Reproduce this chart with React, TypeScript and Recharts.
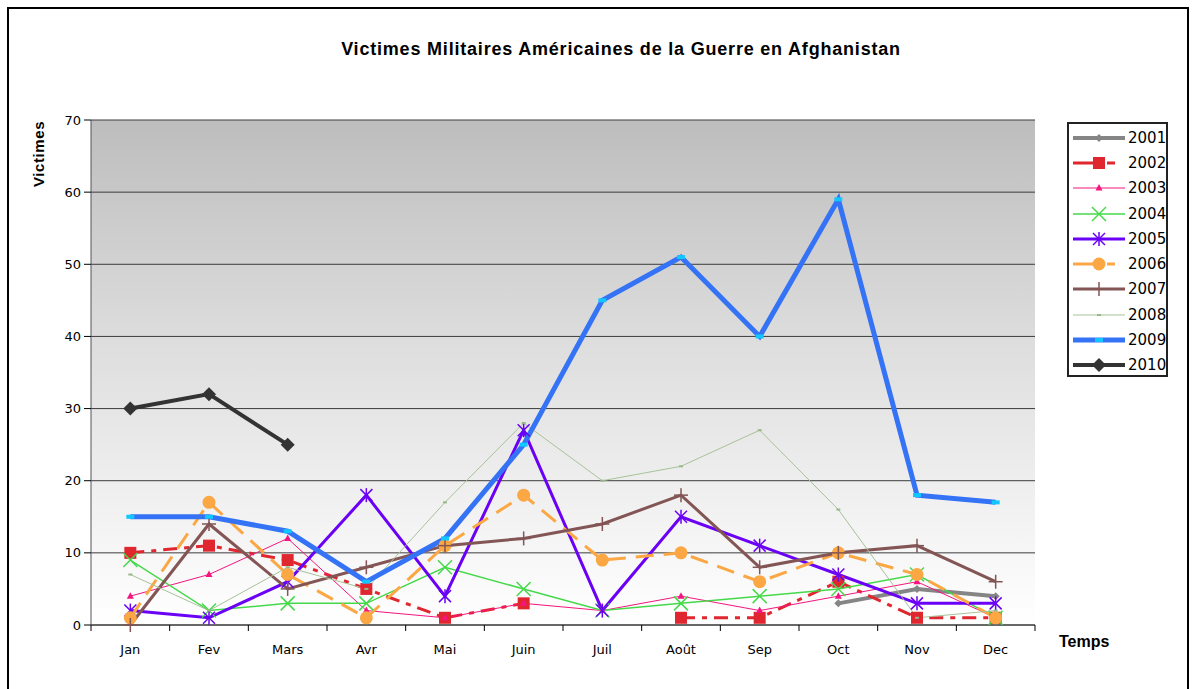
import { CartesianGrid, Legend, Line, LineChart, XAxis, YAxis } from "recharts";

// Month categories and y ticks.
const months = ["Jan", "Fev", "Mars", "Avr", "Mai", "Juin", "Juil", "Août", "Sep", "Oct", "Nov", "Dec"];
const yTicks = [0, 10, 20, 30, 40, 50, 60, 70];
const xTicks = [0, 0.5, 1, 1.5, 2, 2.5, 3, 3.5, 4, 4.5, 5, 5.5, 6, 6.5, 7, 7.5, 8, 8.5, 9, 9.5, 10, 10.5, 11, 11.5, 12];

// Monthly casualties per year (null = no data).
const y2001 = [null, null, null, null, null, null, null, null, null, 3, 5, 4];
const y2002 = [10, 11, 9, 5, 1, 3, null, 1, 1, 6, 1, 1];
const y2003 = [4, 7, 12, 2, 1, 3, 2, 4, 2, 4, 6, 1];
const y2004 = [9, 2, 3, 3, 8, 5, 2, 3, 4, 5, 7, 1];
const y2005 = [2, 1, 6, 18, 4, 27, 2, 15, 11, 7, 3, 3];
const y2006 = [1, 17, 7, 1, 11, 18, 9, 10, 6, 10, 7, 1];
const y2007 = [0, 14, 5, 8, 11, 12, 14, 18, 8, 10, 11, 6];
const y2008 = [7, 2, 8, 5, 17, 28, 20, 22, 27, 16, 1, 2];
const y2009 = [15, 15, 13, 6, 12, 25, 45, 51, 40, 59, 18, 17];
const y2010 = [30, 32, 25, null, null, null, null, null, null, null, null, null];

const values: Record<string, (number | null)[]> = {
  "2001": y2001,
  "2002": y2002,
  "2003": y2003,
  "2004": y2004,
  "2005": y2005,
  "2006": y2006,
  "2007": y2007,
  "2008": y2008,
  "2009": y2009,
  "2010": y2010,
};

type Shape = "diamond" | "square" | "triangle" | "x" | "star" | "circle" | "plus" | "dash" | "bar" | "bigdiamond";

const series: { key: string; color: string; width: number; dash?: string; shape: Shape; mark: string }[] = [
  { key: "2001", color: "#858585", width: 4, shape: "diamond", mark: "#858585" },
  { key: "2002", color: "#e0262f", width: 3, dash: "14 7 5 7", shape: "square", mark: "#e0262f" },
  { key: "2003", color: "#f5157f", width: 1, shape: "triangle", mark: "#f5157f" },
  { key: "2004", color: "#45d94a", width: 1.5, shape: "x", mark: "#45d94a" },
  { key: "2005", color: "#6a00f5", width: 3, shape: "star", mark: "#6a00f5" },
  { key: "2006", color: "#fba744", width: 3, dash: "18 10", shape: "circle", mark: "#fba744" },
  { key: "2007", color: "#835555", width: 3, shape: "plus", mark: "#835555" },
  { key: "2008", color: "#a8c298", width: 1, shape: "dash", mark: "#98b888" },
  { key: "2009", color: "#3473f5", width: 5, shape: "bar", mark: "#10c8ff" },
  { key: "2010", color: "#333333", width: 4, shape: "bigdiamond", mark: "#333333" },
];

const rows = months.map((m, i) => {
  const row: Record<string, number | string | null> = { x: i + 0.5, month: m };
  for (const k of Object.keys(values)) row[k] = values[k][i];
  return row;
});

const FONT = "'DejaVu Sans', Verdana, sans-serif";
const BOLD = "'Liberation Sans', Arial, sans-serif";

function marker(shape: Shape, cx: number, cy: number, c: string) {
  switch (shape) {
    case "diamond":
      return <polygon points={`${cx},${cy - 4} ${cx + 4},${cy} ${cx},${cy + 4} ${cx - 4},${cy}`} fill={c} />;
    case "bigdiamond":
      return <polygon points={`${cx},${cy - 7} ${cx + 7},${cy} ${cx},${cy + 7} ${cx - 7},${cy}`} fill={c} />;
    case "square":
      return <rect x={cx - 6} y={cy - 6} width={12} height={12} fill={c} />;
    case "triangle":
      return <polygon points={`${cx},${cy - 4} ${cx + 3.5},${cy + 2.5} ${cx - 3.5},${cy + 2.5}`} fill={c} />;
    case "x":
      return (
        <g stroke={c} strokeWidth={1.5}>
          <line x1={cx - 7} y1={cy - 7} x2={cx + 7} y2={cy + 7} />
          <line x1={cx - 7} y1={cy + 7} x2={cx + 7} y2={cy - 7} />
        </g>
      );
    case "star":
      return (
        <g stroke={c} strokeWidth={1.5}>
          <line x1={cx - 6} y1={cy - 6} x2={cx + 6} y2={cy + 6} />
          <line x1={cx - 6} y1={cy + 6} x2={cx + 6} y2={cy - 6} />
          <line x1={cx} y1={cy - 7} x2={cx} y2={cy + 7} />
        </g>
      );
    case "circle":
      return <circle cx={cx} cy={cy} r={6.5} fill={c} />;
    case "plus":
      return (
        <g stroke={c} strokeWidth={1.5}>
          <line x1={cx - 7} y1={cy} x2={cx + 7} y2={cy} />
          <line x1={cx} y1={cy - 7} x2={cx} y2={cy + 7} />
        </g>
      );
    case "dash":
      return <rect x={cx - 2} y={cy - 1} width={4} height={2} fill={c} />;
    case "bar":
      return <rect x={cx - 4} y={cy - 2} width={8} height={4} fill={c} />;
  }
}

const makeDot = (shape: Shape, c: string) => (p: any) => {
  if (p.value == null || p.cy == null || p.cx == null) return <g key={p.key} />;
  return <g key={p.key}>{marker(shape, p.cx, p.cy, c)}</g>;
};

const MonthTick = (props: any) => {
  const { x, y, payload } = props;
  const v = payload.value as number;
  if (Number.isInteger(v)) return <line x1={x} x2={x} y1={y} y2={y + 6} stroke="#000" />;
  return (
    <text x={x} y={y + 29} textAnchor="middle" fontFamily={FONT} fontSize={13} fill="#000">
      {months[Math.floor(v)]}
    </text>
  );
};

const LegendBox = () => (
  <div style={{ border: "2px solid #222", width: 101, height: 255, boxSizing: "border-box", background: "#fff", paddingTop: 1 }}>
    {series.map((s) => (
      <div key={s.key} style={{ display: "flex", alignItems: "center", height: 25.3 }}>
        <svg width={56} height={20} style={{ marginLeft: 1, flexShrink: 0 }}>
          <line x1={3} x2={55} y1={10} y2={10} stroke={s.color} strokeWidth={s.width} strokeDasharray={s.dash ? "28 6 8" : undefined} />
          {marker(s.shape, 29, 10, s.mark)}
        </svg>
        <span style={{ fontFamily: FONT, fontSize: 15, color: "#000", marginLeft: 2, lineHeight: "20px" }}>{s.key}</span>
      </div>
    ))}
  </div>
);

export default function App() {
  return (
    <div style={{ position: "absolute", left: 0, top: 0, width: 1195, height: 689, overflow: "hidden", background: "#fff" }}>
      <div
        style={{
          position: "absolute",
          left: 7,
          top: 7,
          width: 1182,
          height: 700,
          border: "2px solid #000",
          boxSizing: "border-box",
        }}
      />
      <div
        style={{
          position: "absolute",
          left: 221,
          top: 39,
          width: 800,
          textAlign: "center",
          fontFamily: BOLD,
          fontWeight: "bold",
          fontSize: 18,
          letterSpacing: 0.8,
          color: "#000",
        }}
      >
        Victimes Militaires Américaines de la Guerre en Afghanistan
      </div>
      <div
        style={{
          position: "absolute",
          left: 38,
          top: 154,
          transform: "translate(-50%, -50%) rotate(-90deg)",
          fontFamily: BOLD,
          fontWeight: "bold",
          fontSize: 15,
          letterSpacing: 0.6,
          color: "#000",
          whiteSpace: "nowrap",
        }}
      >
        Victimes
      </div>
      <div
        style={{
          position: "absolute",
          left: 1059,
          top: 633,
          fontFamily: BOLD,
          fontWeight: "bold",
          fontSize: 16,
          color: "#000",
        }}
      >
        Temps
      </div>
      <div style={{ position: "absolute", left: 0, top: 0 }}>
        <LineChart width={1195} height={689} data={rows} margin={{ top: 120, right: 160, bottom: 34, left: 31 }}>
          <defs>
            <linearGradient id="plotBg" x1="0" y1="0" x2="0" y2="1">
              <stop offset="0%" stopColor="#bdbdbd" />
              <stop offset="45%" stopColor="#dedede" />
              <stop offset="100%" stopColor="#ffffff" />
            </linearGradient>
          </defs>
          <CartesianGrid vertical={false} stroke="#3c3c3c" fill="url(#plotBg)" fillOpacity={1} />
          <XAxis
            dataKey="x"
            type="number"
            domain={[0, 12]}
            ticks={xTicks}
            interval={0}
            tick={<MonthTick />}
            tickLine={false}
            tickSize={0}
            tickMargin={0}
            axisLine={{ stroke: "#333" }}
            height={30}
          />
          <YAxis
            domain={[0, 70]}
            ticks={yTicks}
            interval={0}
            width={60}
            tickSize={7}
            tickMargin={3}
            tickLine={{ stroke: "#000" }}
            axisLine={{ stroke: "#555" }}
            tick={{ fontFamily: FONT, fontSize: 13, fill: "#000" }}
          />
          <Legend
            layout="vertical"
            verticalAlign="middle"
            align="center"
            content={<LegendBox />}
            wrapperStyle={{ top: 122, left: 1067, width: 101, height: 255 }}
          />
          {series.map((s) => (
            <Line
              key={s.key}
              dataKey={s.key}
              name={s.key}
              type="linear"
              stroke={s.color}
              strokeWidth={s.width}
              strokeDasharray={s.dash}
              dot={makeDot(s.shape, s.mark)}
              activeDot={false}
              connectNulls={false}
              isAnimationActive={false}
            />
          ))}
        </LineChart>
      </div>
    </div>
  );
}
